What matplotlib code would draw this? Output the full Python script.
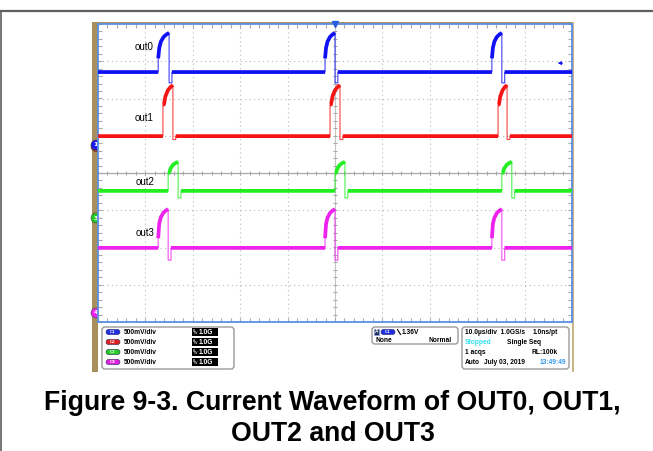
import numpy as np
import matplotlib
matplotlib.use("Agg")
import matplotlib.pyplot as plt
from matplotlib.patches import FancyBboxPatch, Rectangle, Circle

# ---------------- data ----------------
channels = ["out0", "out1", "out2", "out3"]
colors = ["#1010f5", "#f51515", "#22ee22", "#ee22ee"]
# levels in divisions (500 mV/div), centre = 0
baseline = [2.71, 0.99, -0.48, -2.01]
top_level = [3.76, 2.36, 0.30, -0.97]
undershoot = [2.42, 0.90, -0.67, -2.34]
jump_frac = [0.35, 0.62, 0.62, 0.25]
# pulse (rise, fall) times in microseconds (10 us/div)
pulses = [
    [(-37.3, -35.0), (-2.1, 0.0), (33.1, 35.2)],
    [(-36.3, -34.2), (-1.05, 1.05), (34.4, 36.3)],
    [(-35.2, -33.1), (0.0, 2.1), (35.2, 37.3)],
    [(-37.3, -35.2), (-2.1, 0.0), (33.1, 35.2)],
]
# pulse-top shape (fraction of width, fraction of amplitude)
shape_t = [0.0, 0.1, 0.25, 0.5, 0.75, 1.0]
shape_v = [None, 0.62, 0.78, 0.9, 0.96, 1.0]
label_pos = [(-42.2, 3.37), (-42.2, 1.48), (-42.0, -0.24), (-42.0, -1.6)]
t_range = (-50.0, 50.0)

# ---------------- figure ----------------
W, H = 653, 451
fig = plt.figure(figsize=(W / 100, H / 100), dpi=100)
bg = fig.add_axes([0, 0, 1, 1])
bg.set_xlim(0, W)
bg.set_ylim(H, 0)
bg.axis("off")

tan = "#a88f5c"
# outer frame
bg.plot([0, W], [11, 11], color="#606060", lw=1.6)
bg.plot([0.8, 0.8], [11, H], color="#606060", lw=1.2)
# scope screen border (tan)
bg.add_patch(Rectangle((92, 22), 6, 350, color=tan, lw=0))
bg.add_patch(Rectangle((92, 22), 482, 2.5, color=tan, lw=0))
bg.add_patch(Rectangle((572, 22), 1.5, 350, color="#c8b58a", lw=0))

L, R, T, B = 98, 572, 24, 322
ax = fig.add_axes([L / W, 1 - B / H, (R - L) / W, (B - T) / H])
ax.set_xlim(*t_range)
ax.set_ylim(-4, 4)
ax.set_facecolor("white")

# graticule
gcol = "#b8b8b8"
for x in np.arange(-40, 41, 10):
    if x == 0:
        ax.axvline(x, color="#c4c4c4", lw=0.8, zorder=1)
    else:
        ax.axvline(x, color=gcol, lw=0.8, ls=(0, (1, 3)), zorder=1)
for y in np.arange(-3, 4, 1):
    if y == 0:
        ax.axhline(y, color="#a8a8a8", lw=0.9, zorder=1)
    else:
        ax.axhline(y, color=gcol, lw=0.8, ls=(0, (1, 3)), zorder=1)
# centre-line minor ticks
xt = np.arange(-50, 50.01, 2)
ax.vlines(xt, -0.06, 0.06, color="#a8a8a8", lw=0.8, zorder=1)
yt = np.arange(-4, 4.01, 0.2)
ax.hlines(yt, -0.45, 0.45, color="#a8a8a8", lw=0.8, zorder=1)
ax.set_xticks(xt)
ax.set_yticks(yt)
ax.tick_params(direction="in", length=3, width=0.8, colors="#a8a8a8",
               top=True, right=True, labelbottom=False, labelleft=False)
for s in ax.spines.values():
    s.set_color("#5b8fe3")
    s.set_linewidth(1.3)

# traces
for i, ch in enumerate(channels):
    b, tp, us, jf = baseline[i], top_level[i], undershoot[i], jump_frac[i]
    amp = tp - b
    ts, vs = [t_range[0]], [b]
    thick_t, thick_v = [t_range[0]], [b]
    for (r, f) in pulses[i]:
        w = f - r
        ts += [r, r]
        vs += [b, b + jf * amp]
        thick_t += [r, np.nan]
        thick_v += [b, np.nan]
        seg_t, seg_v = [], []
        for st, sv in zip(shape_t, shape_v):
            val = jf if sv is None else max(sv, jf)
            seg_t.append(r + st * w)
            seg_v.append(b + val * amp)
        ts += seg_t
        vs += seg_v
        thick_t += seg_t + [np.nan]
        thick_v += seg_v + [np.nan]
        ts += [f, f + 0.6, f + 0.6]
        vs += [us, us, b]
        thick_t += [f + 0.6]
        thick_v += [b]
    ts.append(t_range[1])
    vs.append(b)
    thick_t.append(t_range[1])
    thick_v.append(b)
    ax.plot(ts, vs, color=colors[i], lw=0.8, zorder=3, alpha=0.8)
    ax.plot(thick_t, thick_v, color=colors[i], lw=2.7, zorder=4,
            solid_capstyle="butt")
    ax.text(label_pos[i][0], label_pos[i][1], ch, fontsize=7,
            family="Liberation Sans", color="black", va="center", ha="left",
            zorder=5)

# trigger marker & right-side marker
ax.plot([0], [4], marker="v", color="#2a5de0", ms=5, clip_on=False, zorder=6)
ax.annotate("", xy=(46.4, 2.95), xytext=(48.6, 2.95),
            arrowprops=dict(arrowstyle="-|>", color="#1010f5", lw=0.7,
                            mutation_scale=5), zorder=6)

# channel ground markers on the left edge
def chmark(y, col, txt, dx=0):
    bg.add_patch(Circle((96 + dx, y), 5.0, color=col, ec="#404040", lw=0.4,
                        zorder=7))
    bg.text(96 + dx, y, txt, fontsize=4.5, color="white", ha="center",
            va="center", weight="bold", zorder=8)
    bg.annotate("", xy=(106 + dx, y), xytext=(100 + dx, y),
                arrowprops=dict(arrowstyle="-|>", color=col, lw=0.6,
                                mutation_scale=4), zorder=7)

chmark(146.5, "#d02020", "")
chmark(145, "#1a1af0", "1")
chmark(218, "#22cc22", "3")
chmark(313, "#ee22ee", "4")

# ---------------- info panel ----------------
fp = dict(family="Liberation Sans", weight="bold", fontsize=4.8, va="center")

def box(x0, y0, x1, y1):
    bg.add_patch(FancyBboxPatch((x0, y0), x1 - x0, y1 - y0,
                                boxstyle="round,pad=0,rounding_size=3",
                                fc="white", ec="#9a9a9a", lw=1.0))

def pill(xc, y, col, txt):
    bg.add_patch(FancyBboxPatch((xc - 7, y - 2.6), 14, 5.2,
                                boxstyle="round,pad=0,rounding_size=2.6",
                                fc=col, ec="#303060", lw=0.4))
    bg.text(xc, y, txt, fontsize=3.2, color="white", ha="center",
            va="center", family="Liberation Sans", weight="bold")

box(102, 327, 234, 369)
pill_cols = ["#2030e0", "#e02020", "#22cc22", "#e020e0"]
rows = [332, 342, 352, 362]
for k in range(4):
    y = rows[k]
    pill(113, y, pill_cols[k], "C%d" % (k + 1))
    bg.text(124, y, "500mV/div", color="black", ha="left", **fp)
    bg.add_patch(Rectangle((192, y - 3.6), 26, 7.2, color="black", lw=0))
    bg.text(193, y - 1.5, "B", fontsize=2.6, color="white", ha="left",
            va="center", family="Liberation Sans")
    bg.text(193.5, y + 1.5, "W", fontsize=2.6, color="white", ha="left",
            va="center", family="Liberation Sans")
    bg.text(199, y, "1.0G", color="white", ha="left", **fp)

box(372, 327, 458, 344)
bg.add_patch(Rectangle((373.5, 329), 5.5, 5.5, fc="#203060", ec="#90a0d0",
                       lw=0.5))
bg.text(376.3, 331.8, "A", fontsize=3.5, color="white", ha="center",
        va="center", family="Liberation Sans", weight="bold")
pill(388, 332, "#2030e0", "C1")
bg.plot([397.5, 400.5], [329.5, 334.5], color="black", lw=0.8)
bg.text(402, 332, "1.36V", color="black", ha="left", **fp)
bg.text(375, 340, "None", color="black", ha="left", **fp)
bg.text(452, 340, "Normal", color="black", ha="right", **fp)

box(462, 327, 569, 369)
bg.text(465, 332, "10.0\u00b5s/div  1.0GS/s", color="black", ha="left", **fp)
bg.text(558, 332, "1.0ns/pt", color="black", ha="right", **fp)
bg.text(465, 342.5, "Stopped", color="#33ddee", ha="left", **fp)
bg.text(507, 342.5, "Single Seq", color="black", ha="left", **fp)
bg.text(465, 352, "1 acqs", color="black", ha="left", **fp)
bg.text(531, 352, "RL:100k", color="black", ha="left", **fp)
bg.text(465, 362, "Auto", color="black", ha="left", **fp)
bg.text(484, 362, "July 03, 2019", color="black", ha="left", **fp)
bg.text(566, 362, "13:49:49", color="#3399ee", ha="right", **fp)

# ---------------- caption ----------------
cap = dict(family="Liberation Sans", weight="bold", fontsize=19.2,
           ha="center", va="baseline", color="black")
bg.text(332.5, 409.5, "Figure 9-3. Current Waveform of OUT0, OUT1,", **cap)
bg.text(332.5, 441, "OUT2 and OUT3", **cap)

fig.savefig("out.png", dpi=100)
